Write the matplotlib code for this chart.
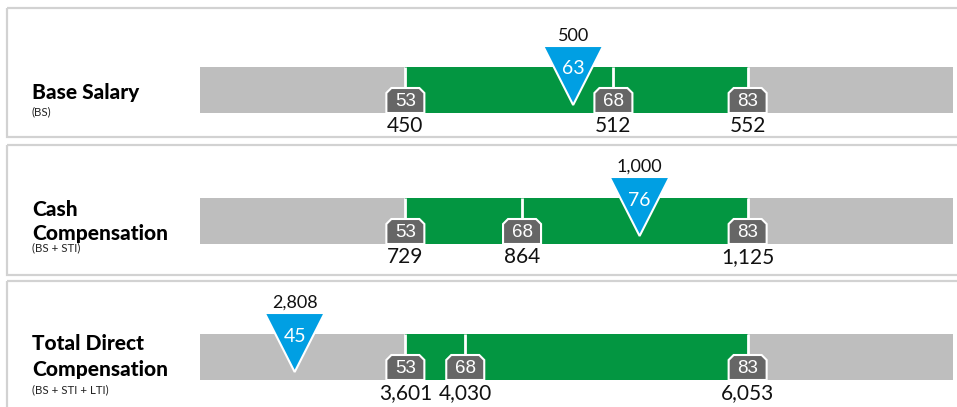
import matplotlib
matplotlib.use("Agg")
import matplotlib.pyplot as plt
from matplotlib.patches import Polygon, Rectangle

# ---- data ----
titles = [["Base Salary"], ["Cash", "Compensation"], ["Total Direct", "Compensation"]]
subtitles = ["(BS)", "(BS + STI)", "(BS + STI + LTI)"]
pct_labels = [53, 68, 83]
q1_vals = [450, 729, 3601]
med_vals = [512, 864, 4030]
q3_vals = [552, 1125, 6053]
own_vals = [500, 1000, 2808]
own_pct = [63, 76, 45]
val_labels = [["450", "512", "552"], ["729", "864", "1,125"], ["3,601", "4,030", "6,053"]]
own_labels = ["500", "1,000", "2,808"]

# ---- style ----
GRAY = "#bebebe"
GREEN = "#039641"
BLUE = "#009fe3"
BOX = "#666666"
BORDER = "#d2d2d2"
FONT = ["Lato", "DejaVu Sans"]
BOXFONT = ["Liberation Sans", "DejaVu Sans"]

W, H = 957, 407
fig = plt.figure(figsize=(W / 100, H / 100), dpi=100)
bg = fig.add_axes([0, 0, 1, 1])
bg.set_xlim(0, W)
bg.set_ylim(H, 0)
bg.axis("off")

panel_tops = [8, 145, 281]
panel_bots = [137, 275, 430]
bar_tops = [67, 198, 334]
bar_h = 46
bar_x0, bar_x1 = 200, 953
title_baselines = [[99], [216, 240], [350, 376]]
sub_y = [112, 248, 390]

for i in range(3):
    # panel border
    bg.add_patch(Rectangle((7, panel_tops[i]), 980, panel_bots[i] - panel_tops[i],
                           fill=False, edgecolor=BORDER, lw=1.6))
    for t, yb in zip(titles[i], title_baselines[i]):
        bg.text(32, yb, t, fontsize=15, fontweight="black", family=FONT,
                va="baseline", ha="left", color="#000000")
    bg.text(32, sub_y[i], subtitles[i], fontsize=8.3, family=FONT,
            va="center", ha="left", color="#222222")

    q1, md, q3 = q1_vals[i], med_vals[i], q3_vals[i]
    rng = q3 - q1
    lo, hi = q1 - 0.6 * rng, q3 + 0.6 * rng
    ax = fig.add_axes([bar_x0 / W, 0, (bar_x1 - bar_x0) / W, 1])
    ax.set_xlim(lo, hi)
    ax.set_ylim(H, 0)
    ax.axis("off")
    ax.patch.set_alpha(0)
    ppu = (bar_x1 - bar_x0) / (hi - lo)  # pixels per unit

    top = bar_tops[i]
    bot = top + bar_h
    yc = top + bar_h / 2
    ax.barh(yc, hi - lo, left=lo, height=bar_h, color=GRAY, zorder=1)
    ax.barh(yc, q3 - q1, left=q1, height=bar_h, color=GREEN, zorder=2)
    ax.vlines([q1, md, q3], top, bot, color="white", lw=2, zorder=3)

    # percentile boxes
    hw = 19 / ppu
    ch = 5 / ppu
    btop = bot - 25
    for x, p, lab in zip([q1, md, q3], pct_labels, val_labels[i]):
        pts = [(x - hw, bot), (x - hw, btop + 5), (x - hw + ch, btop),
               (x + hw - ch, btop), (x + hw, btop + 5), (x + hw, bot)]
        ax.add_patch(Polygon(pts, closed=True, facecolor=BOX, edgecolor="white",
                             lw=1.5, zorder=4, joinstyle="miter"))
        ax.text(x, (btop + bot) / 2 + 1, str(p), color="white", fontsize=13.5,
                family=BOXFONT, ha="center", va="center", zorder=5)
        ax.text(x, bot + 13, lab, color="#111111", fontsize=15, family=FONT,
                ha="center", va="center", zorder=5)

    # own marker (triangle)
    ox = own_vals[i]
    thw = 30 / ppu
    ttop = top - 21
    tap = top + 38
    ax.add_patch(Polygon([(ox - thw, ttop), (ox + thw, ttop), (ox, tap)], closed=True,
                         facecolor=BLUE, edgecolor="white", lw=1.5, zorder=6))
    ax.text(ox, ttop + 23, str(own_pct[i]), color="white", fontsize=14, family=FONT,
            ha="center", va="center", zorder=7)
    ax.text(ox, ttop - 2, own_labels[i], color="#111111", fontsize=13, family=FONT,
            ha="center", va="bottom", zorder=7)

fig.savefig("out.png", dpi=100)
